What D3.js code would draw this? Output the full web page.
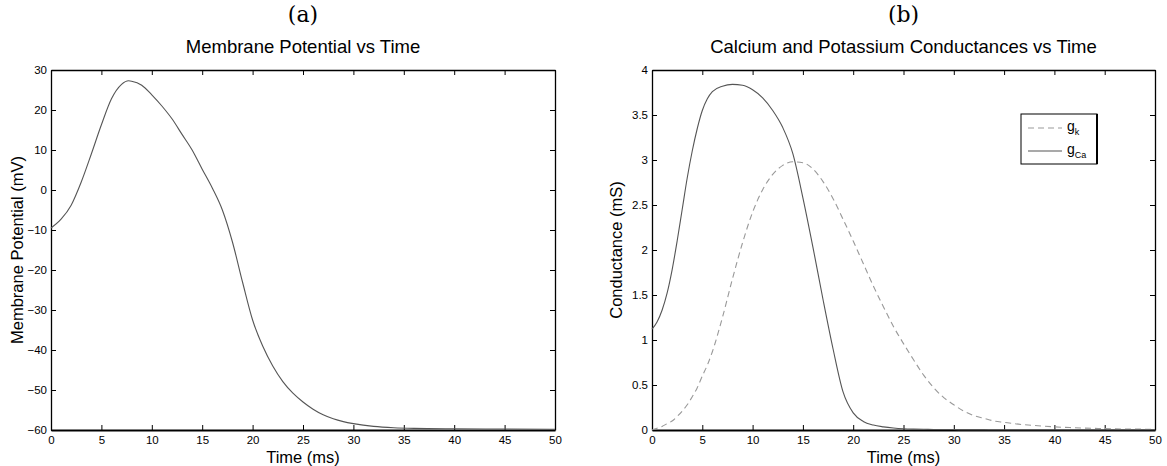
<!DOCTYPE html>
<html>
<head>
  <meta charset="utf-8">
  <title>membrane</title>
  <style>
    body {margin:0; background:#fff;}
    svg text {font-family: "Liberation Sans", Arial, sans-serif; fill:#000;}
    svg .axis path, svg .axis line {stroke:#000;}
    svg .panel {font-family: "DejaVu Serif", "Liberation Serif", serif; font-size:22px; text-anchor:middle;}
  </style>
</head>
<body>
<script src="https://cdn.jsdelivr.net/npm/d3@7"></script>
<script>
  // (a) membrane potential
  var vTime = [0, 1, 2, 3, 4, 5, 6, 7, 7.7, 8, 9, 10, 11, 12, 13, 14, 15, 16, 17, 18, 19, 20,
               21, 22, 23, 24, 25, 26, 27, 28, 29, 30, 32, 34, 36, 40, 45, 50];
  var vValues = [-9.5, -7.3, -3.8, 2, 9, 16.3, 22.8, 26.4, 27.3, 27.2, 26.2, 23.8, 21, 17.8, 13.9, 10, 5.2, 0.5, -5, -13, -23, -32.5,
                 -39, -44, -47.9, -50.8, -53, -54.8, -56.2, -57.2, -57.9, -58.4, -59.1, -59.45, -59.6, -59.7, -59.75, -59.8];

  // (b) conductances
  var gTime = [0, 0.5, 1, 1.5, 2, 2.5, 3, 3.5, 4, 4.5, 5, 5.5, 6, 7, 8, 9, 10, 11, 12, 13, 14, 15, 16, 17, 18, 19, 20,
               21, 22, 23, 24, 25, 26, 27, 28, 29, 30, 31, 32, 33, 34, 35, 36, 38, 40, 42, 45, 50];
  var gCa = [1.12, 1.2, 1.33, 1.52, 1.78, 2.1, 2.45, 2.8, 3.1, 3.35, 3.55, 3.68, 3.76, 3.82, 3.84, 3.83, 3.78, 3.69, 3.55, 3.36, 3.07, 2.58, 2.03, 1.45, 0.9, 0.42, 0.19,
             0.095, 0.055, 0.035, 0.022, 0.014, 0.01, 0.008, 0.006, 0.005, 0.005, 0.004, 0.004, 0.004, 0.003, 0.003, 0.003, 0.003, 0.002, 0.002, 0.002, 0.002];
  var gK = [0, 0.02, 0.04, 0.07, 0.1, 0.15, 0.21, 0.28, 0.37, 0.47, 0.6, 0.72, 0.87, 1.25, 1.68, 2.08, 2.42, 2.67, 2.84, 2.94, 2.98, 2.97, 2.9, 2.76, 2.57, 2.34, 2.1,
            1.85, 1.6, 1.37, 1.15, 0.96, 0.78, 0.61, 0.47, 0.36, 0.28, 0.21, 0.16, 0.13, 0.1, 0.085, 0.07, 0.05, 0.035, 0.025, 0.015, 0.008];

  var xTicks = [0, 5, 10, 15, 20, 25, 30, 35, 40, 45, 50];
  var vTicks = [-60, -50, -40, -30, -20, -10, 0, 10, 20, 30];
  var gTicks = [0, 0.5, 1, 1.5, 2, 2.5, 3, 3.5, 4];

  var width = 1167, height = 466,
      top_ = 70, bottom = 430;

  var svg = d3.select('body').append('svg')
    .attr('width', width)
    .attr('height', height);

  function panel(o){
    var x = d3.scaleLinear().domain([0, 50]).range([o.left, o.right]);
    var y = d3.scaleLinear().domain(o.yDomain).range([bottom, top_]);
    var g = svg.append('g');
    var cx = (o.left + o.right) / 2;
    var fmt = d3.format('~g');

    g.append('text').attr('class', 'panel')
      .attr('x', cx).attr('y', 22).text(o.tag);

    g.append('text').attr('x', cx).attr('y', 53)
      .attr('text-anchor', 'middle').style('font-size', '18.5px').text(o.title);

    // inward ticks on all four sides
    var ax = [
      d3.axisBottom(x).tickValues(xTicks).tickSizeInner(-5).tickSizeOuter(0).tickPadding(6).tickFormat(fmt),
      d3.axisTop(x).tickValues(xTicks).tickSizeInner(-5).tickSizeOuter(0).tickFormat(''),
      d3.axisLeft(y).tickValues(o.yTicks).tickSizeInner(-5).tickSizeOuter(0).tickPadding(4).tickFormat(fmt),
      d3.axisRight(y).tickValues(o.yTicks).tickSizeInner(-5).tickSizeOuter(0).tickFormat('')
    ];
    var tr = ['translate(0,' + bottom + ')', 'translate(0,' + top_ + ')',
              'translate(' + o.left + ',0)', 'translate(' + o.right + ',0)'];
    ax.forEach(function(a, i){
      g.append('g').attr('class', 'axis')
        .attr('transform', tr[i])
        .call(a)
        .call(function(s){
          s.selectAll('text').style('font-size', '11.5px').style('font-family', '"Liberation Sans", Arial, sans-serif');
          s.select('.domain').attr('stroke-width', i == 0 ? 2 : 1.3);
        });
    });

    g.append('text').attr('x', cx).attr('y', 463)
      .attr('text-anchor', 'middle').style('font-size', '16.5px').text('Time (ms)');

    g.append('text')
      .attr('transform', 'translate(' + o.yLabelX + ',' + (top_ + bottom) / 2 + ') rotate(-90)')
      .attr('text-anchor', 'middle').style('font-size', '16.5px').text(o.yLabel);

    o.series.forEach(function(s){
      var line = d3.line()
        .x(function(d, i){ return x(s.t[i]); })
        .y(function(d){ return y(d); })
        .curve(d3.curveMonotoneX);
      g.append('path')
        .datum(s.v)
        .attr('d', line)
        .attr('fill', 'none')
        .attr('stroke', s.color)
        .attr('stroke-width', 1.1)
        .attr('stroke-dasharray', s.dash || null);
    });
    return {x: x, y: y, g: g};
  }

  panel({
    tag: '(a)', title: 'Membrane Potential vs Time', yLabel: 'Membrane Potential (mV)',
    left: 51, right: 555, yDomain: [-60, 30], yTicks: vTicks, yLabelX: 23,
    series: [{t: vTime, v: vValues, color: '#555'}]
  });

  var b = panel({
    tag: '(b)', title: 'Calcium and Potassium Conductances vs Time', yLabel: 'Conductance (mS)',
    left: 652, right: 1155, yDomain: [0, 4], yTicks: gTicks, yLabelX: 622,
    series: [
      {t: gTime, v: gK, color: '#999', dash: '6,4'},
      {t: gTime, v: gCa, color: '#555'}
    ]
  });

  // legend
  var leg = b.g.append('g').attr('transform', 'translate(1021,114)');
  leg.append('rect').attr('width', 76).attr('height', 50)
    .attr('fill', '#fff').attr('stroke', '#000').attr('stroke-width', 1);
  leg.append('line').attr('x1', 76).attr('x2', 76).attr('y1', 0).attr('y2', 50)
    .attr('stroke', '#000').attr('stroke-width', 2);
  var items = [{name: 'g', sub: 'k', color: '#999', dash: '6,4', y: 14},
               {name: 'g', sub: 'Ca', color: '#555', dash: null, y: 37}];
  items.forEach(function(d){
    leg.append('line').attr('x1', 7).attr('x2', 41).attr('y1', d.y).attr('y2', d.y)
      .attr('stroke', d.color).attr('stroke-width', 1.1).attr('stroke-dasharray', d.dash);
    var t = leg.append('text').attr('x', 46).attr('y', d.y + 3).style('font-size', '14px');
    t.append('tspan').text(d.name);
    t.append('tspan').attr('dy', 4).style('font-size', '9px').text(d.sub);
  });
</script>
</body>
</html>
